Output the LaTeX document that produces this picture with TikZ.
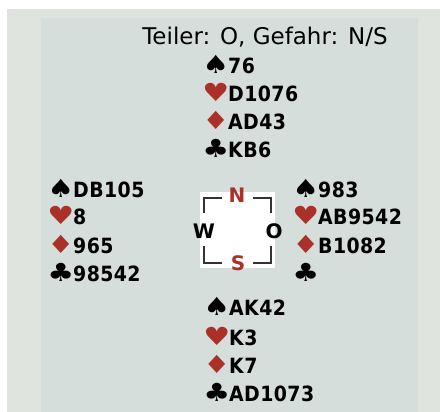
\documentclass[tikz,border=0pt]{standalone}
\usepackage{fontspec}
\setmainfont{DejaVu Sans}
\newfontfamily\cardfont[LetterSpace=2]{DejaVu Sans Condensed}
\newfontfamily\suitfont{DejaVu Sans}
\definecolor{outerbg}{RGB}{224,228,222}
\definecolor{innerbg}{RGB}{213,222,218}
\definecolor{suitred}{RGB}{170,48,40}
\definecolor{bracketcol}{RGB}{50,50,55}
\newcommand\suitbox[2]{{\suitfont\fontsize{25}{25}\selectfont\makebox[21pt][c]{\scalebox{1.2}[1]{\textcolor{#1}{#2}}}}\hspace{2pt}}
\newcommand\Sp{\suitbox{black}{♠}}
\newcommand\He{\suitbox{suitred}{♥}}
\newcommand\Di{\suitbox{suitred}{♦}}
\newcommand\Cl{\suitbox{black}{♣}}
\begin{document}
\begin{tikzpicture}[x=1pt,y=-1pt,
  cardline/.style={anchor=base west,inner sep=0pt,font=\cardfont\bfseries\fontsize{21}{24}\selectfont},
  seat/.style={anchor=base,inner sep=0pt,font=\bfseries\fontsize{20}{22}\selectfont},
  brk/.style={draw=bracketcol,line width=2pt,line join=miter}]
\useasboundingbox (0,0) rectangle (440,412);
\fill[outerbg] (7,9) rectangle (440,412);
\fill[innerbg] (41,18) rectangle (418,412);
% title
\node[anchor=base,inner sep=0pt,font=\fontsize{23}{26}\selectfont] (title) at (265,45) {Teiler: O, Gefahr: N/S};
% North
\node[cardline] (n1) at (205,74) {\Sp76};
\node[cardline] (n2) at (205,102) {\He D1076};
\node[cardline] (n3) at (205,130) {\Di AD43};
\node[cardline] (n4) at (205,158) {\Cl KB6};
% West
\node[cardline] (w1) at (50,197) {\Sp DB105};
\node[cardline] (w2) at (50,225) {\He 8};
\node[cardline] (w3) at (50,253) {\Di 965};
\node[cardline] (w4) at (50,281) {\Cl 98542};
% East
\node[cardline] (e1) at (295,197) {\Sp 983};
\node[cardline] (e2) at (295,225) {\He AB9542};
\node[cardline] (e3) at (295,253) {\Di B1082};
\node[cardline] (e4) at (295,281) {\Cl};
% South
\node[cardline] (s1) at (206,316) {\Sp AK42};
\node[cardline] (s2) at (206,345) {\He K3};
\node[cardline] (s3) at (206,373) {\Di K7};
\node[cardline] (s4) at (206,401) {\Cl AD1073};
% compass
\fill[white] (200,192) rectangle (275,268);
\draw[brk] (204,213) -- (204,198) -- (222,198);
\draw[brk] (253,198) -- (271,198) -- (271,213);
\draw[brk] (204,246) -- (204,263) -- (222,263);
\draw[brk] (253,263) -- (271,263) -- (271,246);
\node[seat,text=suitred] (N) at (237,203) {N};
\node[seat,text=suitred] (S) at (238,270) {S};
\node[seat] (W) at (204,239) {W};
\node[seat] (O) at (274,239) {O};
\end{tikzpicture}
\end{document}
